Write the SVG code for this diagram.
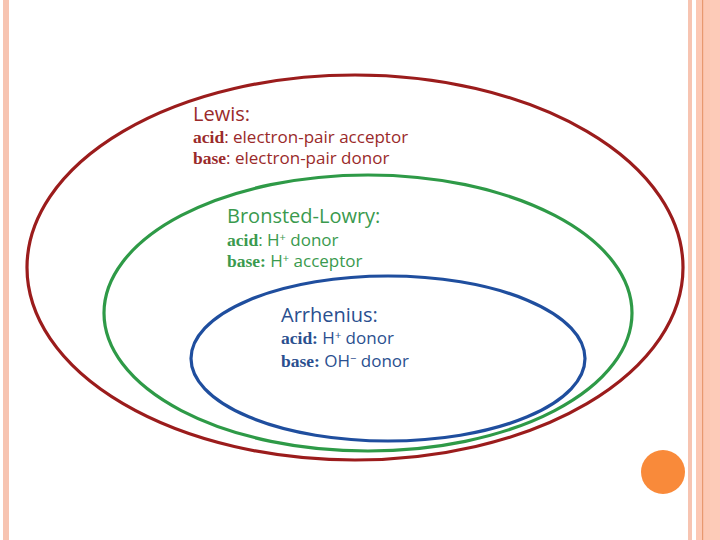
<svg xmlns="http://www.w3.org/2000/svg" width="720" height="540" viewBox="0 0 720 540">
<style>
.t{font-family:"Open Sans",Lato,"Liberation Sans",sans-serif}
.h{font-size:20px}
.b{font-size:17px}
.k{font-family:"Liberation Serif","DejaVu Serif",serif;font-weight:bold;font-size:17.5px}
.sup{font-size:11px}
.red{fill:#9a2a2a}
.grn{fill:#3a9a4e}
.blu{fill:#2a4f8f}
.ell{fill:none;stroke-width:3.2}
</style>
<rect width="720" height="540" fill="#ffffff"/>
<g id="frame">
<rect x="3" y="0" width="6" height="540" fill="#f7c4b1"/>
<rect x="688" y="0" width="4" height="540" fill="#f7c4b1"/>
<rect x="696" y="0" width="24" height="540" fill="#fcc8b4"/>
<rect x="702" y="0" width="1.2" height="540" fill="#e8986f"/>
<rect x="710" y="0" width="10" height="540" fill="#fdcbb8"/>
<circle cx="663" cy="472" r="22" fill="#f98a3a"/>
</g>
<g id="connectors"></g>
<g id="lewis">
<ellipse class="ell" cx="355" cy="267.5" rx="328" ry="192.5" stroke="#9b1c1c"/>
<text class="t h red" x="193" y="121">Lewis:</text>
<text class="t b red" x="193" y="143"><tspan class="k">acid</tspan>: electron-pair acceptor</text>
<text class="t b red" x="193" y="164"><tspan class="k">base</tspan>: electron-pair donor</text>
</g>
<g id="bronsted">
<ellipse class="ell" cx="368" cy="313" rx="264" ry="138" stroke="#2e9a47"/>
<text class="t h grn" x="227" y="223">Bronsted-Lowry:</text>
<text class="t b grn" x="227" y="246"><tspan class="k">acid</tspan>: H<tspan class="sup" dy="-5">+</tspan><tspan dy="5"> donor</tspan></text>
<text class="t b grn" x="227" y="267"><tspan class="k">base:</tspan> H<tspan class="sup" dy="-5">+</tspan><tspan dy="5"> acceptor</tspan></text>
</g>
<g id="arrhenius">
<ellipse class="ell" cx="388" cy="358.5" rx="197" ry="82.5" stroke="#1f4e9e"/>
<text class="t h blu" x="281" y="322">Arrhenius:</text>
<text class="t b blu" x="281" y="344"><tspan class="k">acid:</tspan> H<tspan class="sup" dy="-5">+</tspan><tspan dy="5"> donor</tspan></text>
<text class="t b blu" x="281" y="367"><tspan class="k">base:</tspan> OH<tspan class="sup" dy="-5">−</tspan><tspan dy="5"> donor</tspan></text>
</g>
</svg>
